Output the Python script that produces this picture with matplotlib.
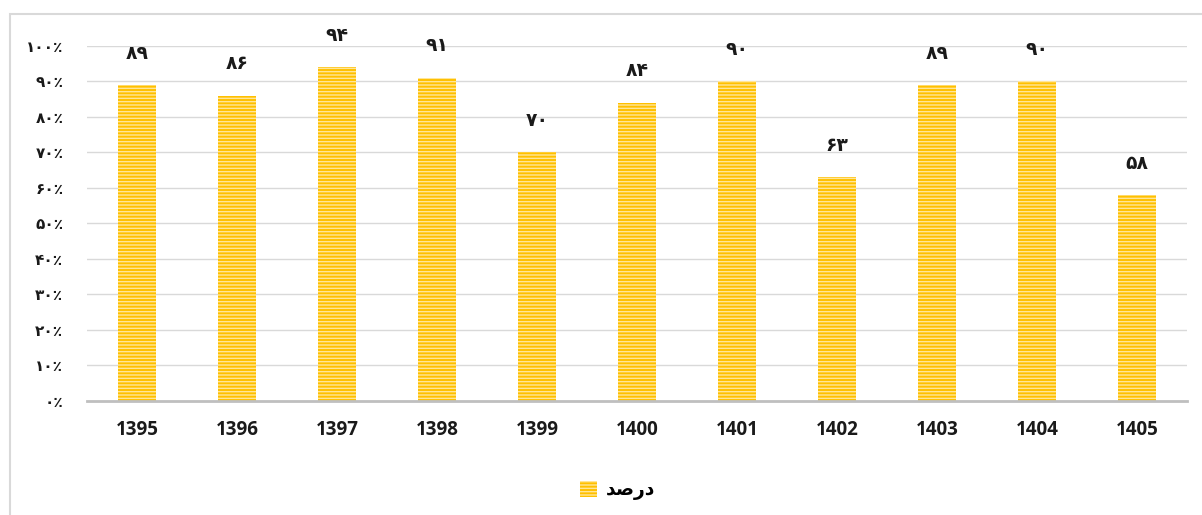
import numpy as np
import matplotlib.pyplot as plt
from matplotlib.patches import Rectangle

years = ['1395', '1396', '1397', '1398', '1399', '1400', '1401', '1402', '1403', '1404', '1405']
values = [89, 86, 94, 91, 70, 84, 90, 63, 89, 90, 58]
yticks = [0, 10, 20, 30, 40, 50, 60, 70, 80, 90, 100]
legend_label = '\uFEAA\uFEBB\uFEAD\uFEA9'  # درصد, shaped for display

fa_digits = str.maketrans('0123456789', '۰۱۲۳۴۵۶۷۸۹')

def fa(n):
    return str(n).translate(fa_digits)

plt.rcParams['hatch.linewidth'] = 1.0

fig = plt.figure(figsize=(12.02, 5.15), dpi=100)
ax = fig.add_axes([0.0724, 0.2214, 0.915, 0.6893])

x = np.arange(len(years))
bars = ax.bar(x, values, width=0.38, color='#FFC000', edgecolor='#FFE699',
              linewidth=0, hatch='-----', label=legend_label, zorder=3)

for xi, v in zip(x, values):
    ax.text(xi, v + 9, fa(v), ha='center', va='center', fontsize=13.5,
            fontweight='bold', family='DejaVu Sans', color='#1a1a1a')

ax.set_xlim(-0.5, len(years) - 0.5)
ax.set_ylim(0, 100)
ax.set_yticks(yticks)
ax.set_yticklabels([fa(t) + '٪' for t in yticks], fontsize=11,
                   fontweight='bold', family='DejaVu Sans', color='#1a1a1a')
ax.set_xticks(x)
ax.set_xticklabels(years, fontsize=13.5, fontweight='bold', family='Open Sans',
                   color='#1a1a1a')
ax.tick_params(axis='y', length=0, pad=17)
ax.tick_params(axis='x', length=0, pad=14)

ax.grid(axis='y', color='#D9D9D9', linewidth=1, zorder=0)
for s in ['left', 'right', 'top']:
    ax.spines[s].set_visible(False)
ax.spines['bottom'].set_color('#BFBFBF')
ax.spines['bottom'].set_linewidth(2)
ax.spines['bottom'].set_zorder(4)

leg = fig.legend(loc='center', bbox_to_anchor=(0.514, 0.048), frameon=False,
                 handlelength=0.9, handleheight=0.9, handletextpad=0.5,
                 prop={'family': 'DejaVu Sans', 'size': 13.5, 'weight': 'bold'})

frame = Rectangle((10 / 1202, -0.1), 1.2, 1 - 14 / 515 + 0.1,
                  transform=fig.transFigure, fill=False, edgecolor='#D9D9D9',
                  linewidth=1.5, clip_on=False)
fig.patches.append(frame)

fig.savefig('out.png', dpi=100)
